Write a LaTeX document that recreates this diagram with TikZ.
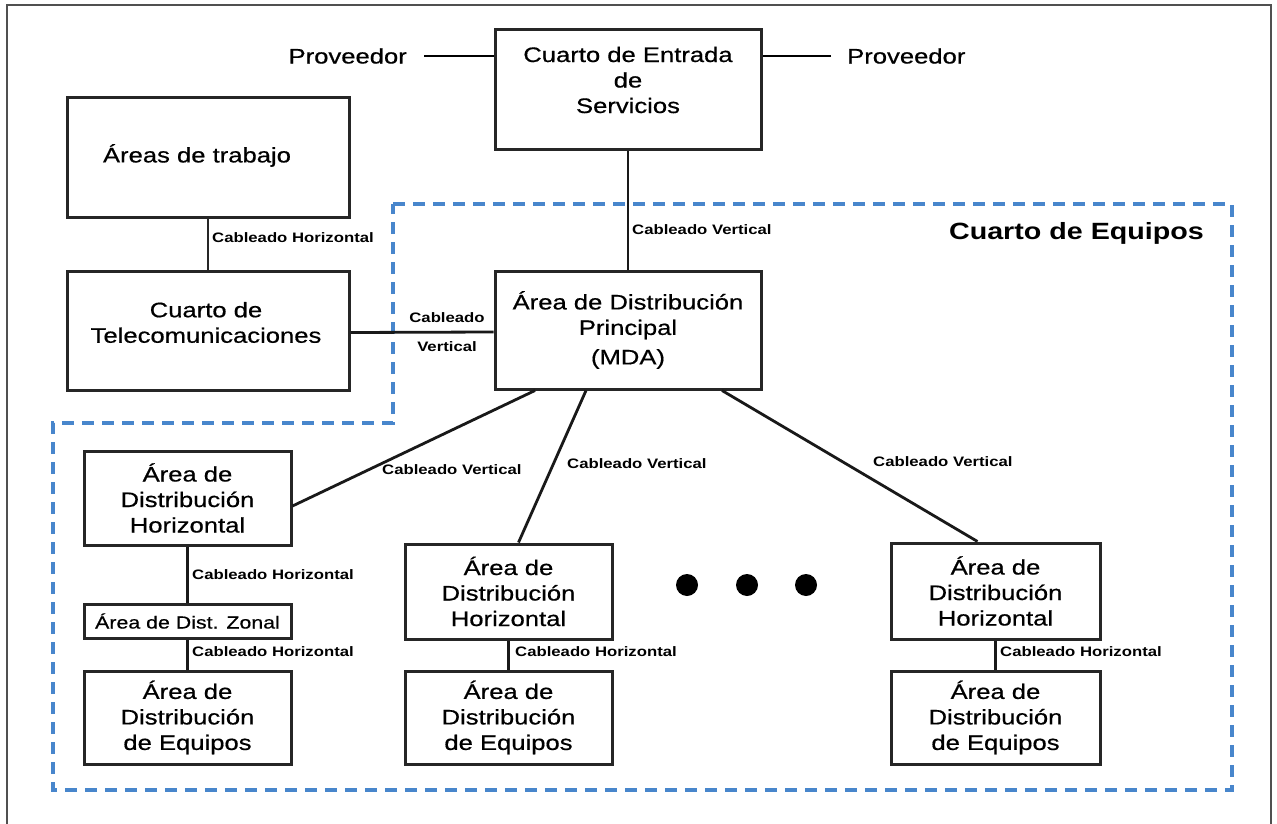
\documentclass[tikz,border=0pt]{standalone}
\usepackage{fontspec}
\setmainfont{Liberation Sans}[FakeStretch=1.22, UprightFeatures={FakeBold=0.6}]
\definecolor{equipblue}{RGB}{72,134,204}
\definecolor{framegray}{RGB}{80,80,80}
\begin{document}
\begin{tikzpicture}[x=1pt,y=-1pt,
  box/.style={draw=black!85, line width=3pt, inner sep=0pt, align=center,
              font=\fontsize{21}{25.5}\selectfont},
  boxtext/.style={align=center, inner sep=0pt, font=\fontsize{21}{25.5}\selectfont},
  lbl/.style={font=\bfseries\fontsize{13.7}{29}\selectfont, inner sep=0pt, anchor=west},
  plain/.style={font=\fontsize{21}{25.5}\selectfont, inner sep=0pt},
  wire/.style={line width=2.8pt, draw=black!90},
  thinwire/.style={line width=1.2pt, draw=black!85},
  zone/.style={draw=equipblue, line width=4pt, dash pattern=on 12pt off 8pt},
  dot/.style={circle, fill=black, minimum size=22pt, inner sep=0pt},
]
\useasboundingbox (0,0) rectangle (1277,824);
\fill[white] (0,0) rectangle (1277,824);

% outer frame
\draw[framegray, line width=1.5pt] (7,830) -- (7,5) -- (1271,5) -- (1271,830);

% equipment room outline
\draw[zone] (393,204) -- (1232,204) -- (1232,790) -- (53,790) -- (53,423) -- (393,423) -- cycle;
\node[font=\bfseries\fontsize{23.5}{28}\selectfont, inner sep=0pt] (equipos) at (1076.5,233) {Cuarto de Equipos};

% boxes
\node[box, minimum width=266pt, minimum height=120pt,
      label={[boxtext, yshift=10pt]center:{Cuarto de Entrada\\de\\Servicios}}] (entrada) at (628,90) {};
\node[box, minimum width=282pt, minimum height=119pt,
      label={[boxtext, xshift=-11pt, yshift=2pt]center:{Áreas de trabajo}}] (areas) at (208,157.5) {};
\node[box, minimum width=282pt, minimum height=119pt,
      label={[boxtext, xshift=-2pt, yshift=8pt]center:{Cuarto de\\Telecomunicaciones}}] (tele) at (208,330.5) {};
\node[box, minimum width=266pt, minimum height=118pt] (mda) at (628,330)
      {Área de Distribución\\Principal\\[4pt](MDA)};

\node[box, minimum width=207pt, minimum height=94pt] (hda1) at (187.5,498)
      {Área de\\Distribución\\Horizontal};
\node[box, minimum width=207pt, minimum height=34pt, font=\fontsize{17.5}{20}\selectfont] (zonal) at (187.5,621)
      {Área de Dist. Zonal};
\node[box, minimum width=207pt, minimum height=93pt] (hde1) at (187.5,717.5)
      {Área de\\Distribución\\de Equipos};

\node[box, minimum width=207pt, minimum height=95pt] (hda2) at (508.5,591.5)
      {Área de\\Distribución\\Horizontal};
\node[box, minimum width=207pt, minimum height=93pt] (hde2) at (508.5,717.5)
      {Área de\\Distribución\\de Equipos};

\node[box, minimum width=209pt, minimum height=96pt] (hda3) at (995.5,591)
      {Área de\\Distribución\\Horizontal};
\node[box, minimum width=209pt, minimum height=93pt] (hde3) at (995.5,717.5)
      {Área de\\Distribución\\de Equipos};

% providers
\node[plain, anchor=east] (prov1) at (407,56) {Proveedor};
\node[plain, anchor=west] (prov2) at (847,56) {Proveedor};
\draw[line width=2.2pt] ([xshift=17pt]prov1.east) -- (prov1.east -| entrada.west);
\draw[line width=2.2pt] ([xshift=-16pt]prov2.west) -- (prov2.west -| entrada.east);

% ellipsis dots
\node[dot] (d1) at (687,585) {};
\node[dot] (d2) at (747,585) {};
\node[dot] (d3) at (806,585) {};

% cabling
\draw[wire] (entrada.south) -- (mda.north);
\draw[thinwire] (areas.south) -- (tele.north);
\draw[wire] ([yshift=-2pt]tele.east) -- ([yshift=-2pt]mda.west);
\draw[wire] ([xshift=-93pt]mda.south) -- ([yshift=-8pt]hda1.east);
\draw[wire] ([xshift=-42pt]mda.south) -- ([xshift=10pt]hda2.north);
\draw[wire] ([xshift=94pt]mda.south) -- ([xshift=-18pt]hda3.north);
\draw[wire] (hda1.south) -- (zonal.north);
\draw[wire] (zonal.south) -- (hde1.north);
\draw[wire] (hda2.south) -- (hde2.north);
\draw[wire] (hda3.south) -- (hde3.north);

% cabling labels
\node[lbl] (l1) at (212,238) {Cableado Horizontal};
\node[lbl, anchor=center, align=center] (l2) at (447,332) {Cableado\\Vertical};
\node[lbl] (l3) at (632,230) {Cableado Vertical};
\node[lbl] (l4) at (382,470) {Cableado Vertical};
\node[lbl] (l5) at (567,464) {Cableado Vertical};
\node[lbl] (l6) at (873,462) {Cableado Vertical};
\node[lbl] (l7) at (192,575) {Cableado Horizontal};
\node[lbl] (l8) at (192,652) {Cableado Horizontal};
\node[lbl] (l9) at (515,652) {Cableado Horizontal};
\node[lbl] (l10) at (1000,652) {Cableado Horizontal};
\end{tikzpicture}
\end{document}
